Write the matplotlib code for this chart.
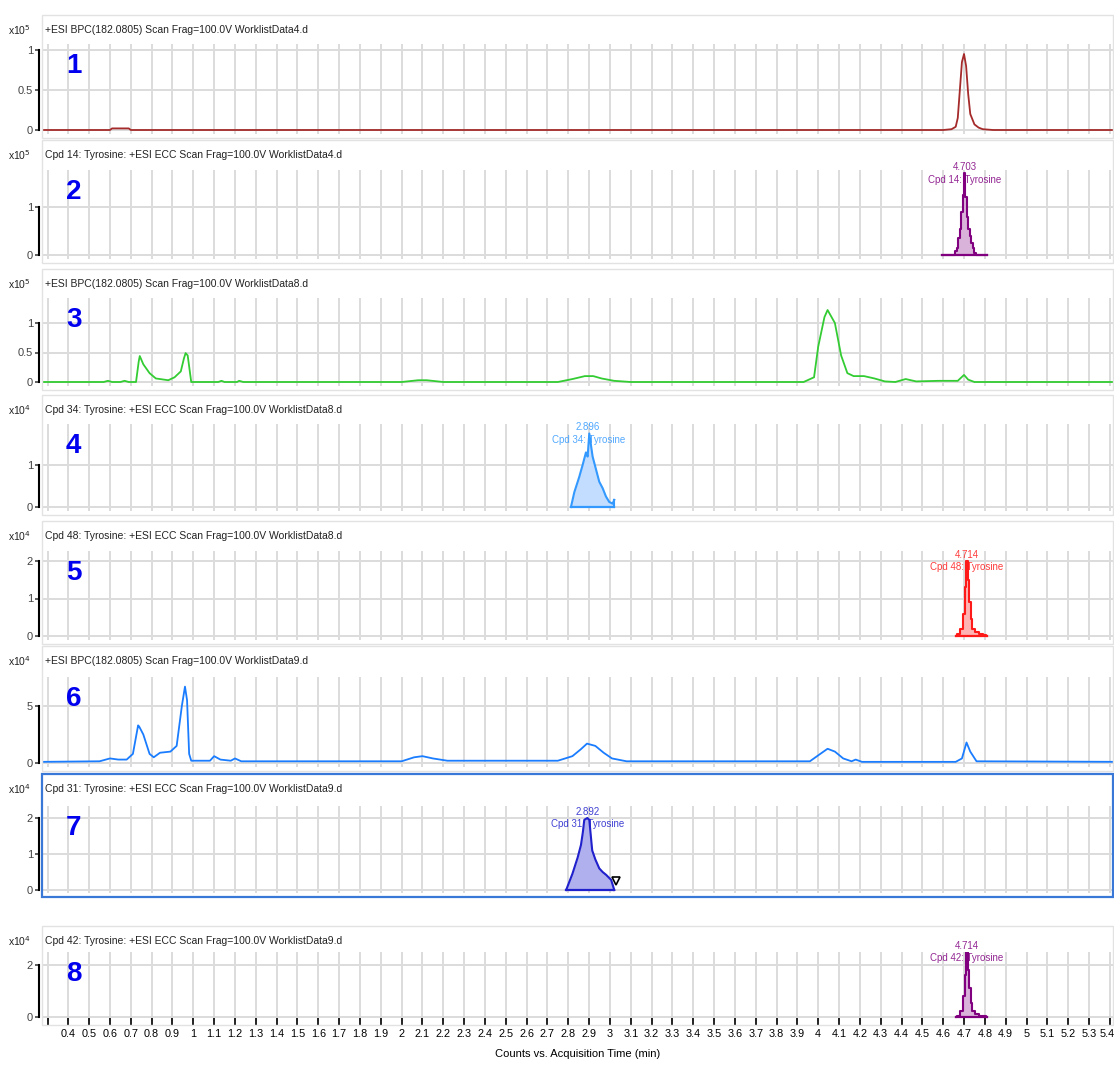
import matplotlib
matplotlib.use("Agg")
import matplotlib.pyplot as plt
from matplotlib.patches import Rectangle
from matplotlib.transforms import ScaledTranslation
import numpy as np

plt.rcParams['font.family'] = ['Liberation Sans Narrow', 'Liberation Sans', 'DejaVu Sans']

# ---------------- data ----------------
headers = [
    "+ESI BPC(182.0805) Scan Frag=100.0V WorklistData4.d",
    "Cpd 14: Tyrosine: +ESI ECC Scan Frag=100.0V WorklistData4.d",
    "+ESI BPC(182.0805) Scan Frag=100.0V WorklistData8.d",
    "Cpd 34: Tyrosine: +ESI ECC Scan Frag=100.0V WorklistData8.d",
    "Cpd 48: Tyrosine: +ESI ECC Scan Frag=100.0V WorklistData8.d",
    "+ESI BPC(182.0805) Scan Frag=100.0V WorklistData9.d",
    "Cpd 31: Tyrosine: +ESI ECC Scan Frag=100.0V WorklistData9.d",
    "Cpd 42: Tyrosine: +ESI ECC Scan Frag=100.0V WorklistData9.d",
]
exponents = [5, 5, 5, 4, 4, 4, 4, 4]
yticks_list = [[0, 0.5, 1], [0, 1], [0, 0.5, 1], [0, 1], [0, 1, 2], [0, 5], [0, 1, 2], [0, 2]]

p1_t = [0.27, 0.60, 0.61, 0.69, 0.70, 4.60, 4.64, 4.66, 4.67, 4.68, 4.69, 4.70, 4.71, 4.72, 4.73, 4.75, 4.77, 4.79, 4.84, 5.46]
p1_y = [0.00, 0.00, 0.02, 0.02, 0.00, 0.00, 0.01, 0.04, 0.15, 0.50, 0.85, 0.95, 0.80, 0.45, 0.20, 0.07, 0.03, 0.01, 0.00, 0.00]

p2_t = [4.595, 4.655, 4.662, 4.669, 4.676, 4.683, 4.690, 4.697, 4.703, 4.710, 4.717, 4.724, 4.731, 4.738, 4.745, 4.752, 4.759, 4.81]
p2_y = [0.00, 0.00, 0.08, 0.15, 0.35, 0.55, 0.90, 1.25, 1.70, 1.20, 0.80, 0.55, 0.40, 0.25, 0.15, 0.05, 0.00, 0.00]

p3_t = [0.27, 0.57, 0.59, 0.61, 0.65, 0.67, 0.69, 0.725, 0.738, 0.743, 0.76, 0.79, 0.82, 0.86, 0.88, 0.91, 0.94, 0.955, 0.963, 0.973,
        0.99, 1.12, 1.135, 1.15, 1.21, 1.22, 1.24, 2.00, 2.08, 2.12, 2.20, 2.75, 2.82, 2.88, 2.92, 2.96, 3.02, 3.10,
        3.93, 3.98, 4.00, 4.03, 4.045, 4.08, 4.11, 4.14, 4.17, 4.22, 4.27, 4.32, 4.37, 4.42, 4.47, 4.58, 4.67, 4.70, 4.72, 4.75, 5.46]
p3_y = [0.00, 0.00, 0.02, 0.00, 0.00, 0.02, 0.00, 0.00, 0.35, 0.44, 0.30, 0.15, 0.06, 0.04, 0.03, 0.08, 0.18, 0.40, 0.49, 0.45,
        0.00, 0.00, 0.02, 0.00, 0.00, 0.02, 0.00, 0.00, 0.03, 0.03, 0.00, 0.00, 0.05, 0.10, 0.10, 0.06, 0.02, 0.00,
        0.00, 0.08, 0.60, 1.10, 1.22, 1.00, 0.45, 0.15, 0.10, 0.10, 0.06, 0.01, 0.00, 0.05, 0.01, 0.02, 0.02, 0.12, 0.04, 0.00, 0.00]

p4_t = [2.813, 2.829, 2.853, 2.869, 2.885, 2.893, 2.901, 2.917, 2.933, 2.949, 2.965, 2.981, 2.997, 3.013, 3.021]
p4_y = [0.00, 0.35, 0.72, 1.00, 1.30, 1.20, 1.75, 1.20, 0.90, 0.60, 0.45, 0.25, 0.12, 0.08, 0.17]

p5_t = [4.66, 4.675, 4.69, 4.70, 4.707, 4.714, 4.721, 4.728, 4.735, 4.745, 4.76, 4.78, 4.80, 4.81]
p5_y = [0.00, 0.05, 0.20, 0.60, 1.30, 2.00, 1.50, 0.90, 0.45, 0.20, 0.10, 0.05, 0.02, 0.00]

p6_t = [0.27, 0.55, 0.60, 0.64, 0.68, 0.71, 0.735, 0.74, 0.76, 0.79, 0.81, 0.84, 0.89, 0.92, 0.945, 0.96, 0.97, 0.98, 0.99,
        1.08, 1.10, 1.13, 1.18, 1.20, 1.23, 2.00, 2.06, 2.10, 2.15, 2.22, 2.75, 2.82, 2.86, 2.89, 2.93, 2.97, 3.01, 3.08,
        3.96, 4.01, 4.045, 4.08, 4.12, 4.16, 4.18, 4.21, 4.66, 4.69, 4.712, 4.73, 4.76, 5.46]
p6_y = [0.10, 0.15, 0.40, 0.30, 0.30, 0.80, 3.30, 3.20, 2.50, 0.80, 0.50, 0.90, 1.00, 1.50, 5.00, 6.70, 5.50, 0.80, 0.20,
        0.20, 0.60, 0.30, 0.20, 0.40, 0.15, 0.15, 0.50, 0.60, 0.40, 0.20, 0.20, 0.60, 1.20, 1.70, 1.50, 0.90, 0.40, 0.15,
        0.15, 0.80, 1.25, 1.00, 0.40, 0.15, 0.30, 0.10, 0.10, 0.40, 1.80, 1.00, 0.15, 0.10]

p7_t = [2.79, 2.82, 2.845, 2.861, 2.87, 2.877, 2.892, 2.901, 2.915, 2.93, 2.949, 2.965, 2.982, 3.006, 3.021]
p7_y = [0.00, 0.45, 0.90, 1.25, 1.60, 1.95, 2.00, 1.95, 1.10, 0.85, 0.60, 0.50, 0.42, 0.28, 0.00]

p8_t = [4.66, 4.675, 4.69, 4.70, 4.707, 4.714, 4.721, 4.728, 4.735, 4.745, 4.76, 4.78, 4.80, 4.81]
p8_y = [0.00, 0.05, 0.25, 0.80, 1.60, 2.50, 1.80, 1.10, 0.55, 0.25, 0.10, 0.05, 0.02, 0.00]

traces = [(p1_t, p1_y), (p2_t, p2_y), (p3_t, p3_y), (p4_t, p4_y), (p5_t, p5_y), (p6_t, p6_y), (p7_t, p7_y), (p8_t, p8_y)]
line_colors = ['#a52a2a', '#800080', '#33cc33', '#3399ff', '#ff1a1a', '#1a7cff', '#2020cc', '#800080']
fill_colors = [None, '#d9b3d9', None, '#c2ddff', '#ffb3b3', None, '#b0b0ee', '#d9b3d9']
steps = [False, True, False, False, True, False, False, True]

peak_labels = [None, ("4.703", "Cpd 14: Tyrosine"), None, ("2.896", "Cpd 34: Tyrosine"), ("4.714", "Cpd 48: Tyrosine"),
               None, ("2.892", "Cpd 31: Tyrosine"), ("4.714", "Cpd 42: Tyrosine")]
peak_times = [None, 4.703, None, 2.896, 4.714, None, 2.892, 4.714]

xtick_vals = [round(v, 1) for v in np.arange(0.3, 5.41, 0.1)]
xtick_labels = [''] + ['%g' % v for v in xtick_vals[1:]]

# ---------------- layout (pixels) ----------------
W, H = 1114, 1066
# (plot top, plot bottom, y of zero tick, px per unit, header y)
panels = [
    (44, 134, 130, 80.0, 30),
    (170, 259, 255, 48.0, 155),
    (298, 386, 382, 59.0, 284),
    (424, 511, 507, 42.0, 410),
    (551, 640, 636, 37.5, 536),
    (677, 767, 763, 11.4, 661),
    (806, 893, 890, 36.0, 789),
    (952, 1021, 1017, 26.0, 941),
]
X0, X1 = 42, 1114
PXMIN = 208.3
X03 = 47.5
xlim = (0.3 - (X03 - X0) / PXMIN, 0.3 + (X1 - X03) / PXMIN)

fig = plt.figure(figsize=(W / 100, H / 100), dpi=100)
fig.patch.set_facecolor('white')

grid_c = '#dcdcdc'
for i, (T, B, y0, s, hy) in enumerate(panels):
    ax = fig.add_axes([X0 / W, 1 - B / H, (X1 - X0) / W, (B - T) / H])
    ax.set_xlim(*xlim)
    ax.set_ylim((y0 - B) / s, (y0 - T) / s)
    ax.set_xticks(xtick_vals)
    ax.set_yticks(yticks_list[i])
    ax.grid(True, color=grid_c, linewidth=1.4)
    ax.set_axisbelow(True)
    for sp in ['top', 'right', 'bottom']:
        ax.spines[sp].set_visible(False)
    ax.spines['left'].set_color('black')
    ax.spines['left'].set_linewidth(1.5)
    ax.spines['left'].set_bounds(0, max(yticks_list[i]))
    ax.spines['left'].set_position(('outward', 2))
    ax.tick_params(axis='y', length=3, width=1.2, labelsize=8, colors='#444444', pad=1.5)
    ax.set_yticklabels(['%g' % v for v in yticks_list[i]])
    if i == 7:
        ax.set_xticklabels(xtick_labels)
        ax.tick_params(axis='x', length=7, width=1.2, direction='inout', labelsize=7.8, colors='black', pad=2.5)
        ax.set_xlabel('Counts vs. Acquisition Time (min)', fontsize=8, labelpad=7)
        last = ax.get_xticklabels()[-1]
        last.set_transform(last.get_transform() + ScaledTranslation(-2.5 / 100, 0, fig.dpi_scale_trans))
    else:
        ax.tick_params(axis='x', length=0, labelbottom=False)

    t, y = traces[i]
    if fill_colors[i]:
        if steps[i]:
            ax.fill_between(t, y, 0, color=fill_colors[i], linewidth=0, step='mid')
            ax.plot(t, y, color=line_colors[i], linewidth=1.5, drawstyle='steps-mid')
        else:
            ax.fill_between(t, y, 0, color=fill_colors[i], linewidth=0)
            ax.plot(t, y, color=line_colors[i], linewidth=1.5)
            ax.plot([t[-1], t[-1]], [y[-1], 0], color=line_colors[i], linewidth=1.5)
        ax.plot([t[0], t[-1]], [0, 0], color=line_colors[i], linewidth=1.6)
    else:
        ax.plot(t, y, color=line_colors[i], linewidth=1.3)

    if peak_labels[i]:
        ymax = max(y)
        ax.text(peak_times[i], ymax, peak_labels[i][0] + "\n" + peak_labels[i][1], color=line_colors[i],
                fontsize=7, ha='center', va='center', linespacing=1.3, alpha=0.85)
    if i == 6:
        ax.plot([t[-1] + 0.01], [0.25], marker='v', markersize=6, markerfacecolor='white',
                markeredgecolor='black', markeredgewidth=1.2, linestyle='none')

    # panel number
    fig.text(66 / W, 1 - (T + 22) / H, str(i + 1), color='#0000ee', fontsize=20, fontweight='bold',
             ha='left', va='center', family=['Liberation Sans', 'DejaVu Sans'])
    # header
    fig.text(45 / W, 1 - hy / H, headers[i], fontsize=7.5, color='#222222', ha='left', va='center')
    fig.text(8 / W, 1 - hy / H, r'x10$^{%d}$' % exponents[i], fontsize=7.5, color='#222222', ha='left', va='center')
    # panel frame
    ec = '#3a78d8' if i == 6 else '#e2e2e2'
    lw = 1.6 if i == 6 else 1.0
    fig.patches.append(Rectangle((X0 / W, 1 - (B + 4) / H), (X1 - X0 - 1) / W, (B + 4 - (hy - 15)) / H,
                                 transform=fig.transFigure, fill=False, edgecolor=ec, linewidth=lw))

fig.savefig('out.png', dpi=100)
